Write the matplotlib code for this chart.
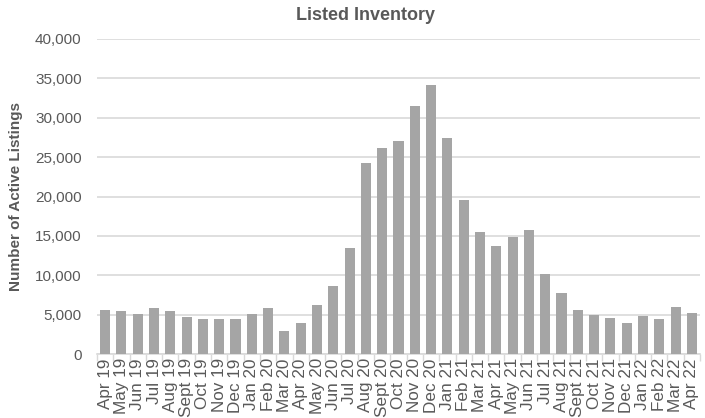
import matplotlib
matplotlib.use("Agg")
import matplotlib.pyplot as plt
import numpy as np
from matplotlib.ticker import FuncFormatter, FixedLocator

months = ["Apr 19", "May 19", "Jun 19", "Jul 19", "Aug 19", "Sept 19", "Oct 19", "Nov 19",
          "Dec 19", "Jan 20", "Feb 20", "Mar 20", "Apr 20", "May 20", "Jun 20", "Jul 20",
          "Aug 20", "Sept 20", "Oct 20", "Nov 20", "Dec 20", "Jan 21", "Feb 21", "Mar 21",
          "Apr 21", "May 21", "Jun 21", "Jul 21", "Aug 21", "Sept 21", "Oct 21", "Nov 21",
          "Dec 21", "Jan 22", "Feb 22", "Mar 22", "Apr 22"]
listings = [5600, 5400, 5100, 5900, 5400, 4700, 4500, 4500,
            4500, 5100, 5800, 2900, 4000, 6200, 8600, 13500,
            24300, 26200, 27000, 31500, 34200, 27400, 19600, 15500,
            13700, 14900, 15800, 10200, 7700, 5600, 4900, 4600,
            4000, 4800, 4400, 6000, 5200]
yticks = [0, 5000, 10000, 15000, 20000, 25000, 30000, 35000, 40000]

plt.rcParams['font.family'] = ['Liberation Sans', 'DejaVu Sans']
text_color = "#595959"

fig = plt.figure(figsize=(7.05, 4.18), dpi=100)
ax = fig.add_axes([97/705, 1-354/418, 603/705, 315/418])

x = np.arange(len(months))
ax.bar(x, listings, width=0.62, color="#a5a5a5", zorder=3)

ax.set_ylim(0, 40000)
ax.set_xlim(-0.5, len(months) - 0.5)
ax.set_yticks(yticks)
ax.yaxis.set_major_formatter(FuncFormatter(lambda v, p: f"{int(v):,}"))
ax.grid(axis="y", color="#d9d9d9", linewidth=1.2, zorder=0)
ax.set_xticks(x)
ax.set_xticklabels(months, rotation=90, fontsize=12.3, color=text_color)
ax.xaxis.set_minor_locator(FixedLocator(np.arange(-0.5, len(months), 1)))
ax.tick_params(axis="x", which="major", length=0, pad=3)
ax.tick_params(axis="x", which="minor", length=5, color="#d9d9d9", width=1)
ax.tick_params(axis="y", length=0, labelsize=11, labelcolor=text_color, pad=11)

for s in ["top", "right", "left"]:
    ax.spines[s].set_visible(False)
ax.spines["bottom"].set_color("#d9d9d9")
ax.spines["bottom"].set_linewidth(1.2)

ax.set_ylabel("Number of Active Listings", fontsize=11, fontweight="bold", color=text_color)
ax.yaxis.set_label_coords((23 - 97) / 603, 0.5)
fig.text(366/705, 1 - 16/418, "Listed Inventory", fontsize=13, fontweight="bold",
         color=text_color, ha="center", va="center")

fig.savefig("out.png", dpi=100)
